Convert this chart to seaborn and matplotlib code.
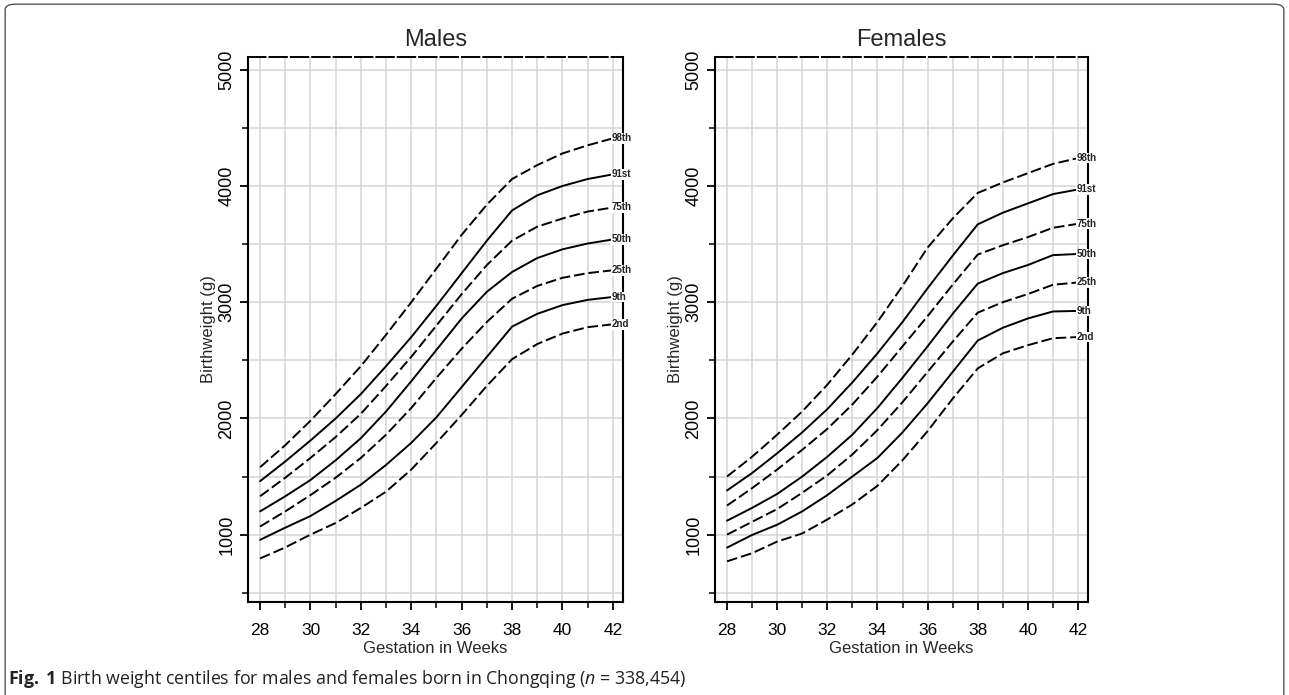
import pandas as pd
import seaborn as sns
import matplotlib.pyplot as plt
from matplotlib.patches import FancyBboxPatch

weeks = list(range(28, 43))
centiles = ["98th", "91st", "75th", "50th", "25th", "9th", "2nd"]

# birth weight (g) per week
males = {
    "98th": [1580, 1770, 1980, 2210, 2450, 2720, 3000, 3290, 3580, 3840, 4060, 4180, 4280, 4350, 4410],
    "91st": [1460, 1630, 1810, 2000, 2210, 2450, 2700, 2970, 3250, 3530, 3790, 3920, 4000, 4060, 4100],
    "75th": [1330, 1490, 1660, 1840, 2040, 2280, 2530, 2800, 3070, 3320, 3530, 3650, 3720, 3780, 3815],
    "50th": [1200, 1330, 1470, 1640, 1830, 2060, 2320, 2590, 2860, 3090, 3260, 3380, 3455, 3505, 3540],
    "25th": [1070, 1200, 1340, 1490, 1660, 1860, 2090, 2350, 2600, 2830, 3030, 3140, 3210, 3250, 3275],
    "9th":  [955, 1060, 1160, 1290, 1430, 1600, 1790, 2010, 2270, 2530, 2790, 2900, 2975, 3020, 3045],
    "2nd":  [795, 890, 1000, 1100, 1230, 1370, 1560, 1790, 2030, 2280, 2510, 2640, 2730, 2785, 2810],
}
females = {
    "98th": [1500, 1670, 1860, 2060, 2290, 2550, 2830, 3140, 3470, 3720, 3940, 4030, 4110, 4190, 4240],
    "91st": [1380, 1530, 1700, 1880, 2080, 2310, 2560, 2830, 3120, 3400, 3670, 3770, 3850, 3930, 3970],
    "75th": [1250, 1400, 1560, 1730, 1910, 2120, 2360, 2620, 2880, 3150, 3410, 3490, 3560, 3640, 3675],
    "50th": [1120, 1230, 1350, 1500, 1670, 1860, 2090, 2350, 2620, 2900, 3160, 3250, 3320, 3405, 3415],
    "25th": [1000, 1110, 1220, 1360, 1510, 1690, 1900, 2140, 2400, 2660, 2910, 3000, 3070, 3150, 3170],
    "9th":  [888, 997, 1085, 1200, 1340, 1500, 1660, 1880, 2130, 2400, 2670, 2780, 2860, 2920, 2925],
    "2nd":  [770, 840, 940, 1010, 1130, 1260, 1420, 1640, 1890, 2170, 2430, 2560, 2630, 2690, 2700],
}

rows = []
for sex, d in [("Males", males), ("Females", females)]:
    for c in centiles:
        for w, v in zip(weeks, d[c]):
            rows.append({"sex": sex, "week": w, "weight": v, "centile": c})
df = pd.DataFrame(rows)

sns.set_theme(style="white")
plt.rcParams["font.family"] = ["Liberation Sans", "DejaVu Sans"]
plt.rcParams["mathtext.fontset"] = "custom"
plt.rcParams["mathtext.rm"] = "Open Sans"
plt.rcParams["mathtext.it"] = "Open Sans:italic"
plt.rcParams["mathtext.bf"] = "Open Sans:bold"

dash = (5.5, 2.0)
dashes = {"98th": dash, "91st": "", "75th": dash, "50th": "",
          "25th": dash, "9th": "", "2nd": dash}
palette = {c: "black" for c in centiles}

fig = plt.figure(figsize=(12.89, 6.95), dpi=100)
ax_m = fig.add_axes([0.1924, 0.1338, 0.2909, 0.7842])
ax_f = fig.add_axes([0.5547, 0.1338, 0.2894, 0.7842])

for ax, sex in [(ax_m, "Males"), (ax_f, "Females")]:
    sub = df[df["sex"] == sex]
    ax.set_xticks(range(28, 43), minor=True)
    ax.set_yticks(range(500, 5001, 500), minor=True)
    ax.grid(True, which="both", color="#d4d4d4", linewidth=1.1, zorder=0)
    sns.lineplot(data=sub, x="week", y="weight", hue="centile", style="centile",
                 palette=palette, dashes=dashes, linewidth=1.4, legend=False,
                 ax=ax, zorder=3)
    ax.set_xlim(27.52, 42.4)
    ax.set_ylim(420, 5110)
    ax.set_xticks(range(28, 43, 2))
    ax.set_yticks(range(1000, 5001, 1000))
    ax.tick_params(axis="x", which="major", labelsize=12.5, length=6, width=1.3,
                   direction="out", bottom=True, pad=9, colors="black")
    ax.tick_params(axis="y", which="major", labelsize=13, length=6, width=1.3,
                   direction="out", left=True, pad=3, colors="black")
    ax.tick_params(which="minor", length=4, width=1.3, direction="out",
                   bottom=True, left=True)
    for lab in ax.get_yticklabels():
        lab.set_rotation(90)
        lab.set_va("center")
    for s in ["left", "bottom", "right"]:
        ax.spines[s].set_color("black")
        ax.spines[s].set_linewidth(1.5)
    ax.spines["top"].set_color("black")
    ax.spines["top"].set_linewidth(1.4)
    ax.spines["top"].set_linestyle((0, (9, 2)))
    ax.set_title(sex, fontsize=17, pad=8)
    ax.set_xlabel("Gestation in Weeks", fontsize=12, labelpad=2.5)
    ax.set_ylabel("Birthweight (g)", fontsize=12, labelpad=2)
    d = males if sex == "Males" else females
    for c in centiles:
        ax.text(41.95, d[c][-1], c, fontsize=7, fontweight="bold", ha="left",
                va="center", color="#222222", clip_on=False, zorder=5,
                bbox=dict(facecolor="white", edgecolor="none", pad=0.3))

fig.text(0.0065, 0.016,
         r"$\bf{Fig.}$ $\bf{1}$ Birth weight centiles for males and females born in Chongqing ($\it{n}$ = 338,454)",
         fontsize=12.8, color="#222222", family="Open Sans")

fig.patches.append(FancyBboxPatch((0.004, -0.05), 0.992, 1.044,
                                  boxstyle="round,pad=0,rounding_size=0.008",
                                  transform=fig.transFigure, fill=False,
                                  edgecolor="#555555", linewidth=1.0))

fig.savefig("out.png", dpi=100)
